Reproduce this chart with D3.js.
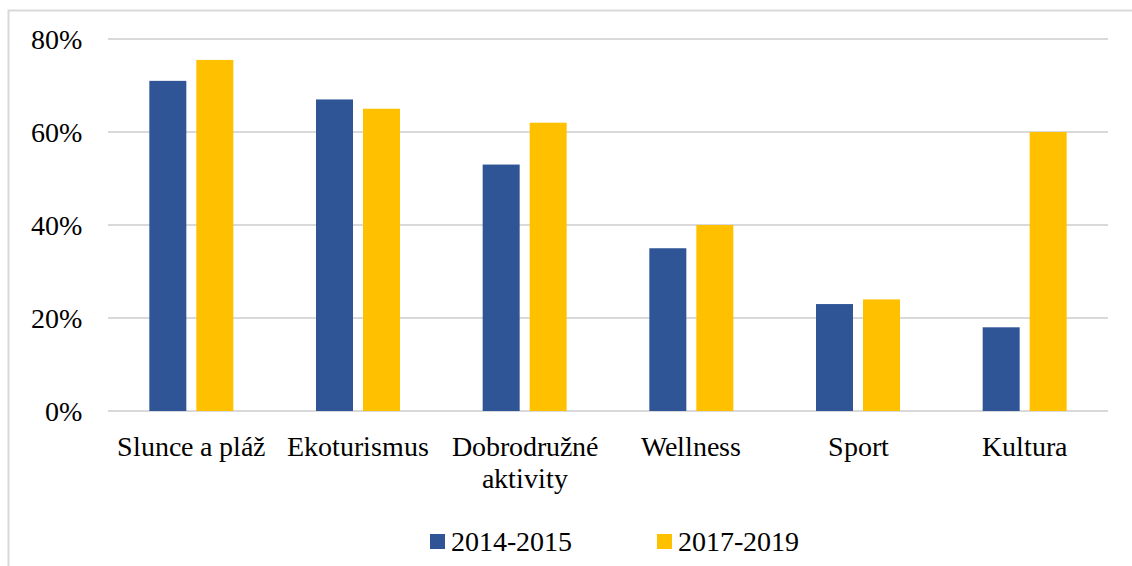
<!DOCTYPE html>
<meta charset="utf-8">
<script src="https://cdn.jsdelivr.net/npm/d3@7"></script>
<style>
@font-face { font-family: "ChartSerif"; src: local("Liberation Serif"), local("LiberationSerif-Regular"), local("DejaVu Serif"), local("DejaVuSerif"); }
body { margin: 0; background: #fff; }
svg text { font-family: "ChartSerif", "Liberation Serif", "DejaVu Serif", serif; fill: #000; }
.grid line { stroke: #d9d9d9; stroke-width: 2px; }
</style>
<body>
<script>

// categories and series
var categories = ["Slunce a pláž", "Ekoturismus", "Dobrodružné aktivity", "Wellness", "Sport", "Kultura"];
var seriesNames = ["2014-2015", "2017-2019"];
var values2014 = [71, 67, 53, 35, 23, 18];
var values2017 = [75.5, 65, 62, 40, 24, 60];
var yTicks = [0, 20, 40, 60, 80];
var colors = ["#2f5597", "#ffc000"];

var width = 1132,
    height = 566;

var svg = d3.select("body").append("svg")
    .attr("width", width)
    .attr("height", height);

// outer chart border (runs off the right and bottom edge)
svg.append("rect")
    .attr("x", 8.5).attr("y", 10.5)
    .attr("width", 1140).attr("height", 570)
    .attr("fill", "none")
    .attr("stroke", "#d9d9d9")
    .attr("stroke-width", 2);

var margin = {left: 108, right: 24, top: 39, bottom: 155};

var x = d3.scaleBand()
    .domain(categories)
    .range([margin.left, width - margin.right]);

var y = d3.scaleLinear()
    .domain([0, 80])
    .range([height - margin.bottom, margin.top]);

// gridlines
svg.append("g")
    .attr("class", "grid")
    .selectAll("line")
    .data(yTicks)
    .enter().append("line")
    .attr("x1", margin.left)
    .attr("x2", width - margin.right)
    .attr("y1", function(d) { return y(d); })
    .attr("y2", function(d) { return y(d); });

// y tick labels
svg.append("g")
    .selectAll("text")
    .data(yTicks)
    .enter().append("text")
    .attr("x", 82)
    .attr("y", function(d) { return y(d); })
    .attr("dy", "0.34em")
    .attr("text-anchor", "end")
    .style("font-size", "28px")
    .text(function(d) { return d + "%"; });

// bars
var barW = 37, gap = 10;
var series = [values2014, values2017];
series.forEach(function(vals, si) {
  svg.append("g")
    .selectAll("rect")
    .data(categories)
    .enter().append("rect")
    .attr("x", function(d) {
      var c = x(d) + x.bandwidth() / 2;
      return si == 0 ? c - gap / 2 - barW : c + gap / 2;
    })
    .attr("width", barW)
    .attr("y", function(d, i) { return y(vals[i]); })
    .attr("height", function(d, i) { return y(0) - y(vals[i]); })
    .attr("fill", colors[si]);
});

// category labels, "Dobrodružné aktivity" wraps to two lines
var catLines = {"Dobrodružné aktivity": ["Dobrodružné", "aktivity"]};
var lab = svg.append("g")
    .selectAll("text")
    .data(categories)
    .enter().append("text")
    .attr("text-anchor", "middle")
    .attr("transform", function(d) { return "translate(" + (x(d) + x.bandwidth() / 2) + ",456)"; })
    .style("font-size", "28px");
lab.each(function(d) {
  var lines = catLines[d] || [d];
  var t = d3.select(this);
  lines.forEach(function(l, i) {
    t.append("tspan").attr("x", 0).attr("y", i * 32).text(l);
  });
});

// legend
var legX = [430, 657];
var leg = svg.append("g")
    .selectAll("g")
    .data(seriesNames)
    .enter().append("g")
    .attr("transform", function(d, i) { return "translate(" + legX[i] + ",534)"; });
leg.append("rect")
    .attr("width", 15).attr("height", 15)
    .attr("fill", function(d, i) { return colors[i]; });
leg.append("text")
    .attr("x", 21)
    .attr("y", 17)
    .style("font-size", "28px")
    .text(function(d) { return d; });

</script>
</body>
